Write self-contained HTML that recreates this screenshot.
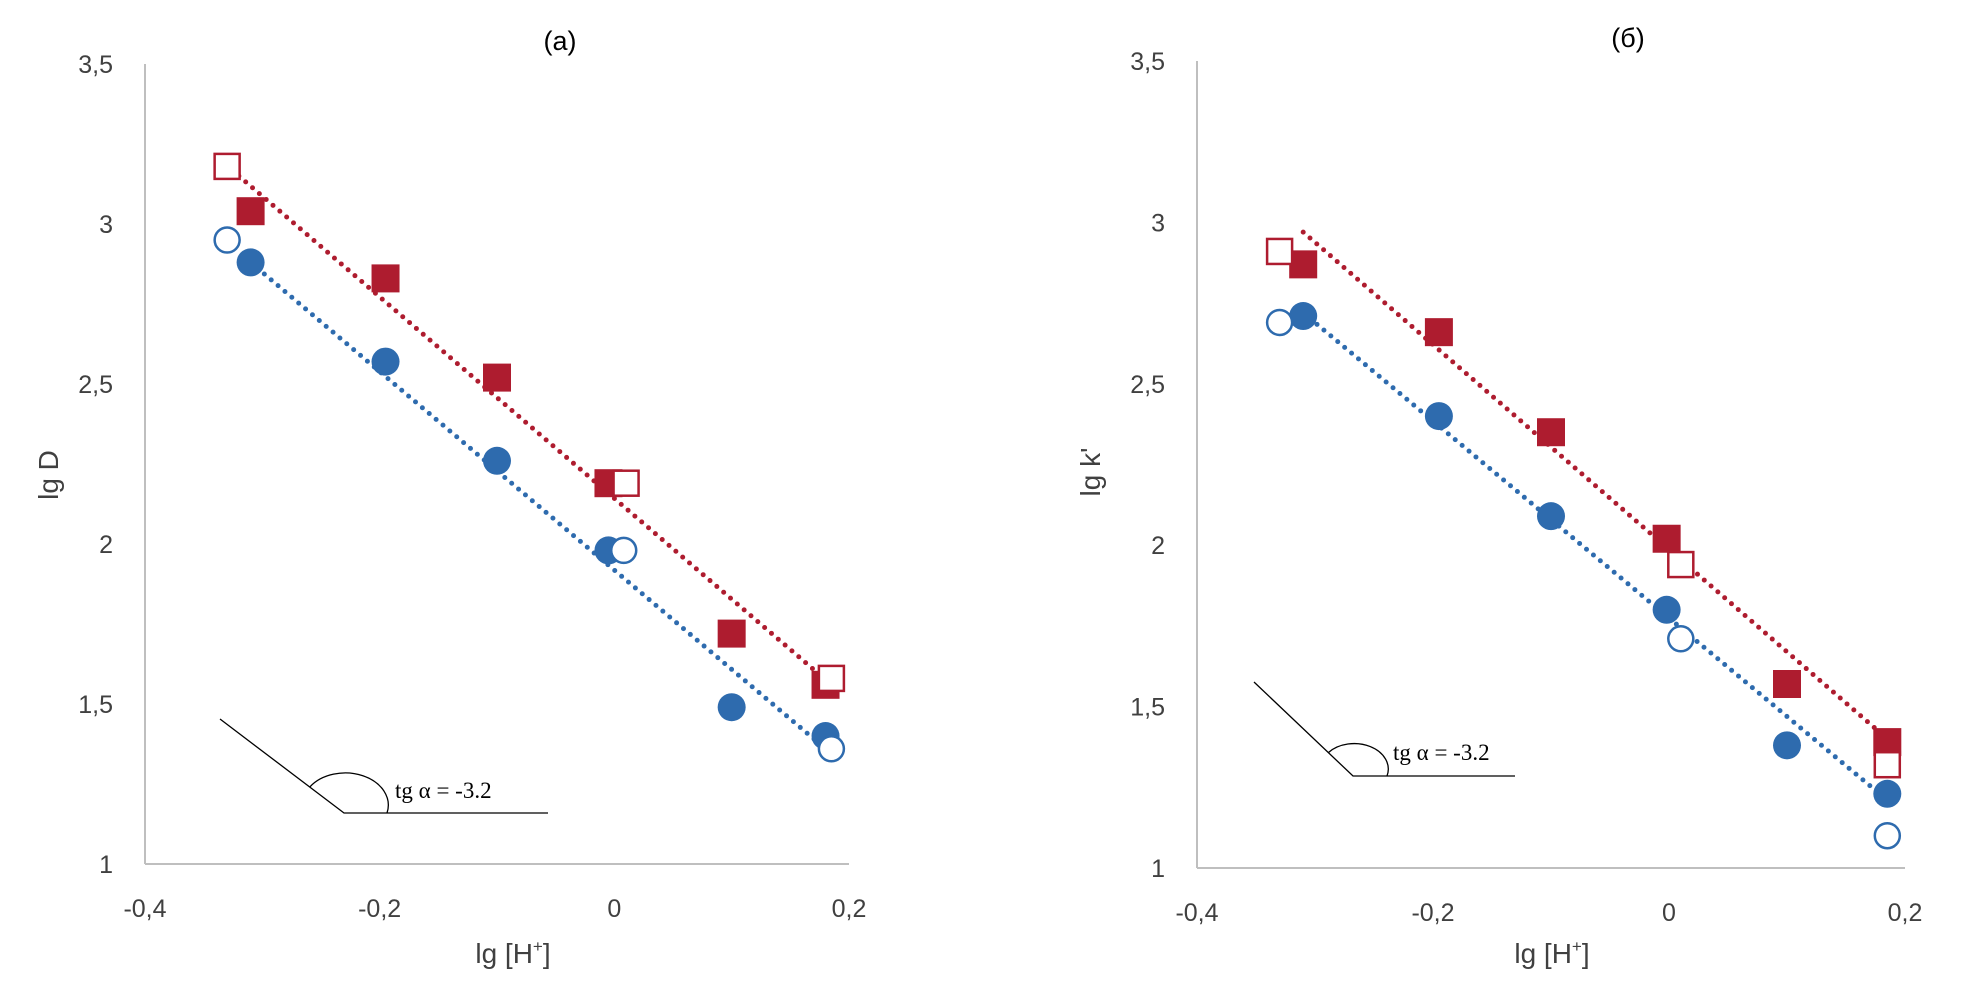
<!DOCTYPE html>
<html><head><meta charset="utf-8"><style>
body{margin:0;background:#fff;}
svg{display:block;font-family:"Liberation Sans",sans-serif;}
</style></head><body>
<svg id="chart" width="1970" height="1008" viewBox="0 0 1970 1008" xmlns="http://www.w3.org/2000/svg"></svg>
<script>
const yTicks=[1,1.5,2,2.5,3,3.5];
const yTickLabels=["1","1,5","2","2,5","3","3,5"];
const xTicks=[-0.4,-0.2,0,0.2];
const xTickLabels=["-0,4","-0,2","0","0,2"];
// panel (a)
const aRedFilledX=[-0.31,-0.195,-0.1,-0.005,0.1,0.18];
const aRedFilledY=[3.04,2.83,2.52,2.19,1.72,1.56];
const aRedOpenX=[-0.33,0.01,0.185];
const aRedOpenY=[3.18,2.19,1.58];
const aBlueFilledX=[-0.31,-0.195,-0.1,-0.005,0.1,0.18];
const aBlueFilledY=[2.88,2.57,2.26,1.98,1.49,1.40];
const aBlueOpenX=[-0.33,0.008,0.185];
const aBlueOpenY=[2.95,1.98,1.36];
const aRedTrendX=[-0.32,0.185];const aRedTrendY=[3.15,1.56];
const aBlueTrendX=[-0.31,0.18];const aBlueTrendY=[2.88,1.36];
// panel (б)
const bRedFilledX=[-0.31,-0.195,-0.1,-0.002,0.1,0.185];
const bRedFilledY=[2.87,2.66,2.35,2.02,1.57,1.39];
const bRedOpenX=[-0.33,0.01,0.185];
const bRedOpenY=[2.91,1.94,1.32];
const bBlueFilledX=[-0.31,-0.195,-0.1,-0.002,0.1,0.185];
const bBlueFilledY=[2.71,2.40,2.09,1.80,1.38,1.23];
const bBlueOpenX=[-0.33,0.01,0.185];
const bBlueOpenY=[2.69,1.71,1.10];
const bRedTrendX=[-0.31,0.185];const bRedTrendY=[2.97,1.40];
const bBlueTrendX=[-0.31,0.185];const bBlueTrendY=[2.72,1.21];

const NS="http://www.w3.org/2000/svg";
const svg=document.getElementById('chart');
const RED="#ae1c2f",BLUE="#2e6bae";
function mk(tag,attrs,parent){const e=document.createElementNS(NS,tag);for(const k in attrs)e.setAttribute(k,attrs[k]);(parent||svg).appendChild(e);return e;}

function panel(p){
  const g=mk('g',{});
  
  
  const sx=v=>p.x0+(v+0.4)/0.6*(p.x1-p.x0);
  const sy=v=>p.yb-(v-1)/2.5*(p.yb-p.yt);
  const ya=mk('line',{x1:p.x0,y1:p.yt,x2:p.x0,y2:p.yb,stroke:"#bfbfbf","stroke-width":2},g);
  
  const xa=mk('line',{x1:p.x0,y1:p.yb,x2:p.x1,y2:p.yb,stroke:"#bfbfbf","stroke-width":2},g);
  
  yTicks.forEach((v,i)=>{const t=mk('text',{x:p.x0-32,y:sy(v)+9,"text-anchor":"end","font-size":25,fill:"#404040"},g);t.textContent=yTickLabels[i];
    });
  xTicks.forEach((v,i)=>{const t=mk('text',{x:sx(v),y:p.yb+53,"text-anchor":"middle","font-size":25,fill:"#404040"},g);t.textContent=xTickLabels[i];
    });
  const xl=mk('text',{x:p.xlx,y:963,"text-anchor":"middle","font-size":28,fill:"#404040"},g);
  xl.innerHTML='lg [H<tspan font-size="17" dy="-11">+</tspan><tspan dy="11">]</tspan>';
  
  const yl=mk('text',{x:0,y:0,"text-anchor":"middle","font-size":28,fill:"#404040",transform:`translate(${p.ylx},${p.yly}) rotate(-90)`},g);
  yl.textContent=p.ylabel;
  const tt=mk('text',{x:p.tx,y:p.ty,"text-anchor":"middle","font-size":27,fill:"#000"},g);
  tt.textContent=p.title;
  const an=p.ann;
  const l1=mk('polyline',{points:`${an.x0},${an.y0} ${an.cx},${an.cy} ${an.x2},${an.cy}`,fill:"none",stroke:"#000","stroke-width":1.3},g);
  
  const dx=an.x0-an.cx,dy=an.y0-an.cy,L=Math.hypot(dx,dy);
  const ax=an.cx+dx/L*an.r,ay=an.cy+dy/L*an.r;
  const arc=mk('path',{d:`M${ax},${ay} A${an.r},${an.r*0.75} 0 0 1 ${an.cx+an.r},${an.cy}`,fill:"none",stroke:"#000","stroke-width":1.3},g);
  
  const at=mk('text',{x:an.tx,y:an.ty,"font-size":23,fill:"#000","font-family":"Liberation Serif, serif"},g);
  at.textContent='tg α = -3.2';
  [[p.d.rtx,p.d.rty,RED,'red-trendline'],[p.d.btx,p.d.bty,BLUE,'blue-trendline']].forEach(([X,Y,c,n])=>{
    const l=mk('line',{x1:sx(X[0]),y1:sy(Y[0]),x2:sx(X[1]),y2:sy(Y[1]),stroke:c,"stroke-width":5,"stroke-dasharray":"0 9","stroke-linecap":"round"},g);
    });
  const s=28,r=14;
  p.d.bfx.forEach((v,i)=>{const e=mk('circle',{cx:sx(v),cy:sy(p.d.bfy[i]),r:r,fill:BLUE},g);
    });
  p.d.rfx.forEach((v,i)=>{const e=mk('rect',{x:sx(v)-s/2,y:sy(p.d.rfy[i])-s/2,width:s,height:s,fill:RED},g);
    });
  p.d.box.forEach((v,i)=>{const e=mk('circle',{cx:sx(v),cy:sy(p.d.boy[i]),r:r-1.5,fill:"#fff",stroke:BLUE,"stroke-width":2.5},g);
    });
  p.d.rox.forEach((v,i)=>{const e=mk('rect',{x:sx(v)-s/2+1.5,y:sy(p.d.roy[i])-s/2+1.5,width:s-3,height:s-3,fill:"#fff",stroke:RED,"stroke-width":2.5},g);
    });
}
panel({name:'panel-a',x0:145,x1:849,yt:64,yb:864,xlx:513,ylx:58,yly:475,ylabel:'lg D',title:'(a)',tx:560,ty:50,
  ann:{x0:220,y0:719,cx:344,cy:813,x2:548,r:43,tx:395,ty:798},
  d:{rfx:aRedFilledX,rfy:aRedFilledY,rox:aRedOpenX,roy:aRedOpenY,bfx:aBlueFilledX,bfy:aBlueFilledY,box:aBlueOpenX,boy:aBlueOpenY,rtx:aRedTrendX,rty:aRedTrendY,btx:aBlueTrendX,bty:aBlueTrendY}});
panel({name:'panel-b',x0:1197,x1:1905,yt:61,yb:868,xlx:1552,ylx:1100,yly:472,ylabel:"lg k'",title:'(б)',tx:1628,ty:47,
  ann:{x0:1254,y0:682,cx:1353,cy:776,x2:1515,r:34,tx:1393,ty:760},
  d:{rfx:bRedFilledX,rfy:bRedFilledY,rox:bRedOpenX,roy:bRedOpenY,bfx:bBlueFilledX,bfy:bBlueFilledY,box:bBlueOpenX,boy:bBlueOpenY,rtx:bRedTrendX,rty:bRedTrendY,btx:bBlueTrendX,bty:bBlueTrendY}});
</script>
</body></html>
